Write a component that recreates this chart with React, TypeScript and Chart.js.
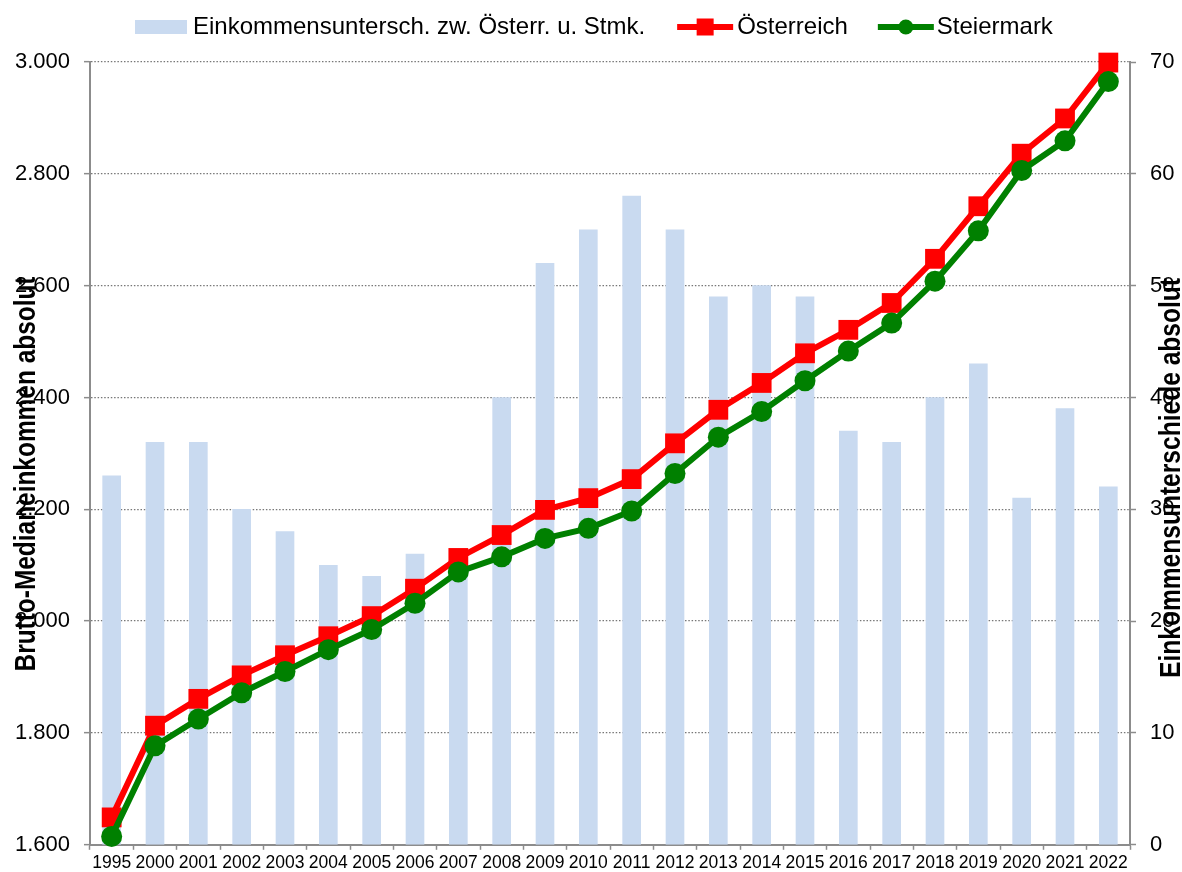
import React, { useEffect, useRef } from 'react';
import { Chart, registerables } from 'chart.js';

Chart.register(...registerables);

const categories = ['1995', '2000', '2001', '2002', '2003', '2004', '2005', '2006', '2007', '2008', '2009', '2010', '2011', '2012', '2013', '2014', '2015', '2016', '2017', '2018', '2019', '2020', '2021', '2022'];
const oesterreich = [1649, 1813, 1861, 1903, 1939, 1973, 2009, 2058, 2113, 2154, 2199, 2220, 2254, 2318, 2378, 2426, 2479, 2521, 2569, 2648, 2742, 2836, 2899, 2999];
const steiermark = [1615, 1777, 1825, 1872, 1910, 1949, 1985, 2032, 2088, 2115, 2148, 2166, 2197, 2264, 2329, 2375, 2430, 2483, 2533, 2608, 2698, 2806, 2859, 2965];
const unterschied = [33, 36, 36, 30, 28, 25, 24, 26, 25, 40, 52, 55, 58, 55, 49, 50, 49, 37, 36, 40, 43, 31, 39, 32];

const leftMin = 1600;
const leftMax = 3000;
const leftStep = 200;
const rightMin = 0;
const rightMax = 70;
const rightStep = 10;

const seriesLabels = ['Einkommensuntersch. zw. Österr. u. Stmk.', 'Österreich', 'Steiermark'];
const leftTitle = 'Brutto-Medianeinkommen absolut';
const rightTitle = 'Einkommensunterschiede absolut';

const FONT = '"Liberation Sans", Arial, Helvetica, sans-serif';
const BAR_COLOR = '#C9DAF0';
const RED = '#FF0000';
const GREEN = '#008000';
const AXIS = '#8C8C8C';
const GRID = '#777777';

function fmt(v: number): string {
  return String(Math.round(v)).replace(/\B(?=(\d{3})+(?!\d))/g, '.');
}

const overlayPlugin = {
  id: 'overlay',
  afterDraw(chart: any) {
    const ctx = chart.ctx as CanvasRenderingContext2D;
    const drawVertical = (text: string, x: number, cy: number, len: number) => {
      ctx.save();
      ctx.font = 'bold 30px ' + FONT;
      const w = ctx.measureText(text).width;
      ctx.translate(x, cy);
      ctx.rotate(-Math.PI / 2);
      ctx.scale(len / w, 1);
      ctx.textAlign = 'center';
      ctx.textBaseline = 'alphabetic';
      ctx.fillStyle = '#000';
      ctx.fillText(text, 0, 0);
      ctx.restore();
    };
    drawVertical(leftTitle, 35, 474, 395);
    drawVertical(rightTitle, 1180, 478, 400);

    // legend
    ctx.save();
    ctx.font = '24px ' + FONT;
    ctx.textBaseline = 'middle';
    ctx.textAlign = 'left';
    const cy = 27;
    let x = 135;
    ctx.fillStyle = BAR_COLOR;
    ctx.fillRect(x, cy - 7, 52, 14);
    x += 58;
    ctx.fillStyle = '#000';
    ctx.fillText(seriesLabels[0], x, cy);
    x += ctx.measureText(seriesLabels[0]).width + 32;
    // red
    ctx.strokeStyle = RED;
    ctx.lineWidth = 6;
    ctx.beginPath();
    ctx.moveTo(x, cy);
    ctx.lineTo(x + 56, cy);
    ctx.stroke();
    ctx.fillStyle = RED;
    ctx.fillRect(x + 28 - 8.5, cy - 8.5, 17, 17);
    x += 60;
    ctx.fillStyle = '#000';
    ctx.fillText(seriesLabels[1], x, cy);
    x += ctx.measureText(seriesLabels[1]).width + 30;
    // green
    ctx.strokeStyle = GREEN;
    ctx.beginPath();
    ctx.moveTo(x, cy);
    ctx.lineTo(x + 56, cy);
    ctx.stroke();
    ctx.fillStyle = GREEN;
    ctx.beginPath();
    ctx.arc(x + 28, cy, 7.5, 0, Math.PI * 2);
    ctx.fill();
    x += 59;
    ctx.fillStyle = '#000';
    ctx.fillText(seriesLabels[2], x, cy);
    ctx.restore();
  },
};

export default function App() {
  const ref = useRef<HTMLCanvasElement | null>(null);

  useEffect(() => {
    if (!ref.current) return;
    Chart.defaults.font.family = FONT;
    const chart = new Chart(ref.current, {
      type: 'bar',
      data: {
        labels: categories,
        datasets: [
          {
            type: 'line',
            label: seriesLabels[2],
            data: steiermark,
            yAxisID: 'yL',
            borderColor: GREEN,
            backgroundColor: GREEN,
            borderWidth: 6,
            pointStyle: 'circle',
            pointRadius: 10.5,
            pointBackgroundColor: GREEN,
            pointBorderWidth: 0,
            tension: 0,
            clip: false,
            order: 0,
          } as any,
          {
            type: 'line',
            label: seriesLabels[1],
            data: oesterreich,
            yAxisID: 'yL',
            borderColor: RED,
            backgroundColor: RED,
            borderWidth: 6,
            pointStyle: 'rect',
            pointRadius: 14,
            pointBackgroundColor: RED,
            pointBorderWidth: 0,
            tension: 0,
            clip: false,
            order: 1,
          } as any,
          {
            type: 'bar',
            label: seriesLabels[0],
            data: unterschied,
            yAxisID: 'yR',
            backgroundColor: BAR_COLOR,
            borderWidth: 0,
            barThickness: 18,
            order: 2,
          } as any,
        ],
      },
      options: {
        animation: false,
        responsive: false,
        devicePixelRatio: 1,
        layout: { padding: { top: 62, left: 0, right: 0, bottom: 0 } },
        plugins: {
          legend: { display: false },
          tooltip: { enabled: false },
        },
        scales: {
          x: {
            type: 'category',
            offset: true,
            grid: {
              offset: true,
              drawOnChartArea: false,
              drawTicks: true,
              tickLength: 5,
              tickColor: AXIS,
              tickWidth: 1.5,
            },
            border: { color: AXIS, width: 2 },
            ticks: {
              color: '#000',
              font: { size: 17.5, family: FONT },
              maxRotation: 0,
              minRotation: 0,
              autoSkip: false,
              padding: 3,
            },
            afterFit: (s: any) => {
              s.height = 27;
            },
          },
          yL: {
            type: 'linear',
            position: 'left',
            min: leftMin,
            max: leftMax,
            ticks: {
              stepSize: leftStep,
              color: '#000',
              font: { size: 22, family: FONT },
              padding: 14,
              callback: (v: any) => fmt(Number(v)),
            },
            grid: {
              color: (c: any) => (c.tick && c.tick.value === leftMin ? 'rgba(0,0,0,0)' : GRID),
              lineWidth: 1.3,
              drawTicks: true,
              tickLength: 6,
              tickColor: AXIS,
              tickWidth: 1.5,
            },
            border: { color: AXIS, width: 2, dash: [1.5, 1.8] },
            afterFit: (s: any) => {
              s.width = 90;
            },
          },
          yR: {
            type: 'linear',
            position: 'right',
            min: rightMin,
            max: rightMax,
            ticks: {
              stepSize: rightStep,
              color: '#000',
              font: { size: 22, family: FONT },
              padding: 14,
            },
            grid: {
              drawOnChartArea: false,
              drawTicks: true,
              tickLength: 6,
              tickColor: AXIS,
              tickWidth: 1.5,
            },
            border: { color: AXIS, width: 2 },
            afterFit: (s: any) => {
              s.width = 52;
            },
          },
        },
      } as any,
      plugins: [overlayPlugin],
    });
    return () => chart.destroy();
  }, []);

  return (
    <div style={{ position: 'absolute', left: 0, top: 0, width: 1182, height: 872, background: '#fff' }}>
      <canvas ref={ref} width={1182} height={872} style={{ display: 'block' }} />
    </div>
  );
}
